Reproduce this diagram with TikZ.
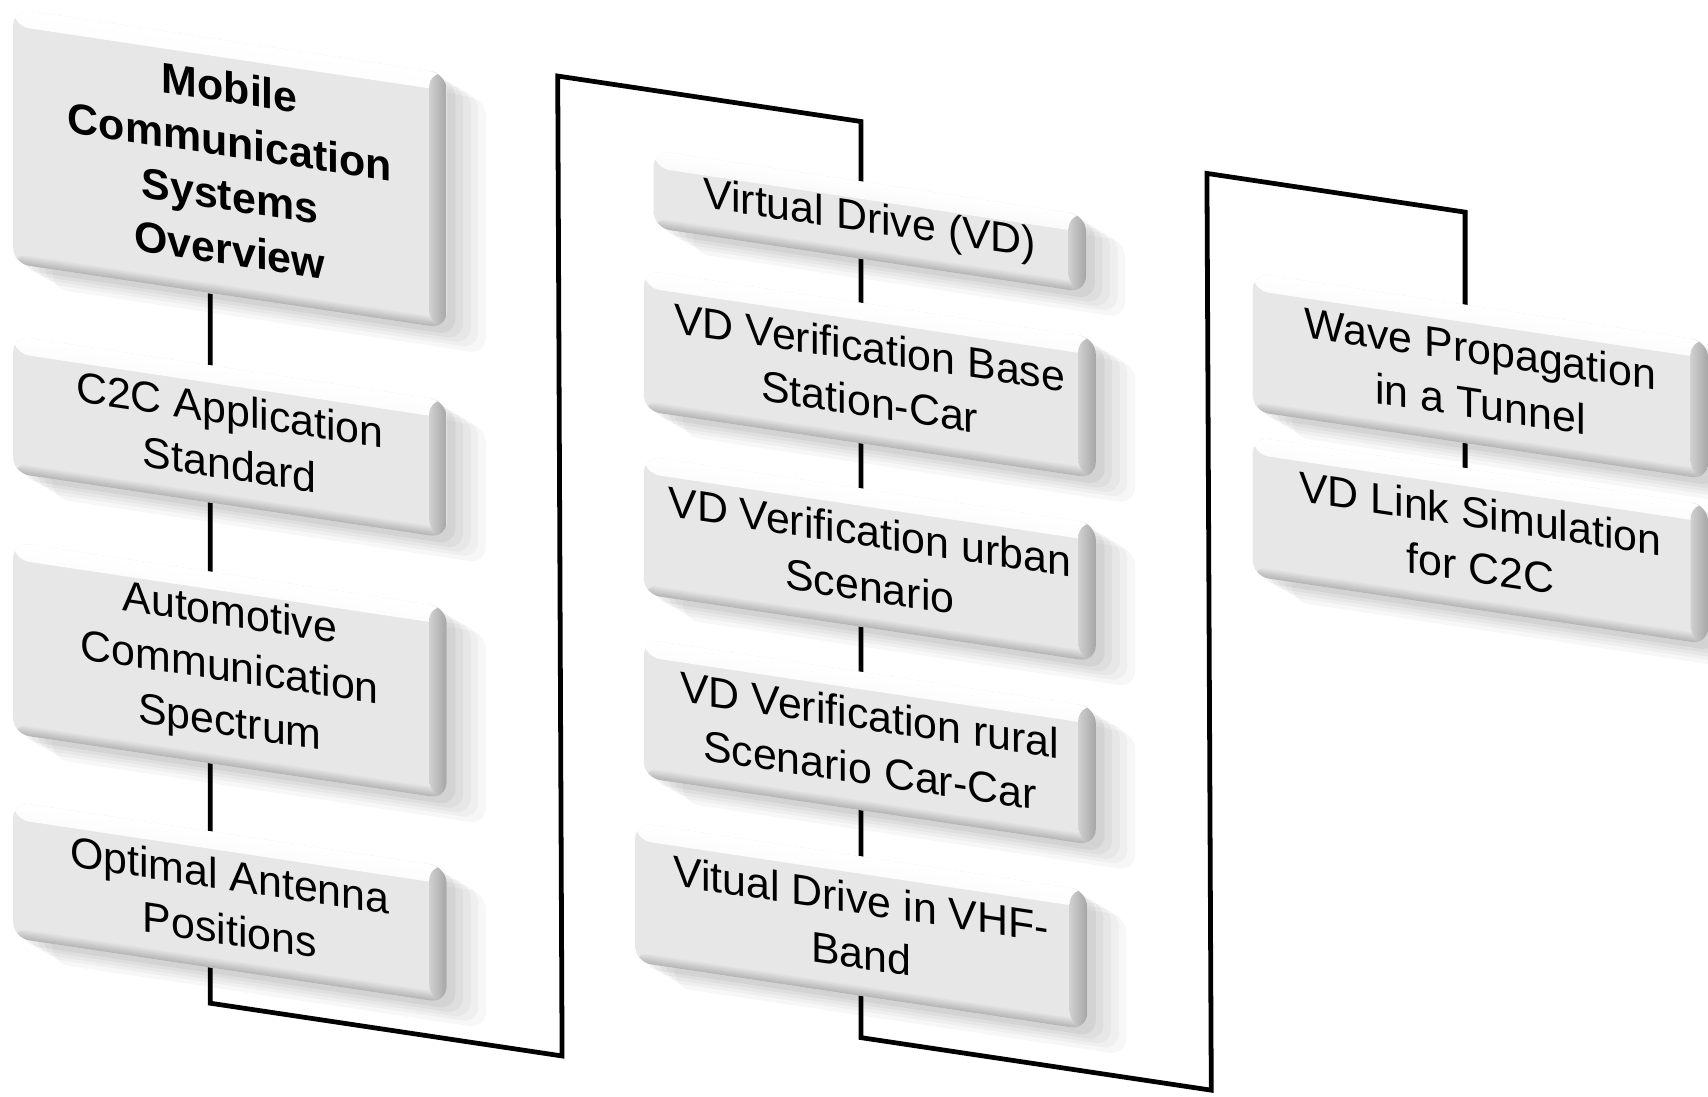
\documentclass[tikz,border=0pt]{standalone}
\usepackage{fontspec}
\setmainfont{Liberation Sans}
\usepackage{tikz}
\usetikzlibrary{positioning, shadows, backgrounds}
\definecolor{tileface}{RGB}{231,231,231}
\tikzset{
node distance=4mm,
slanted/.style={transform canvas={yslant=-0.15}},
tile/.style={%
    rectangle,
    rounded corners=1.5mm,
    fill=tileface,
    align=center,
    inner sep=0pt,
    % Font
    font=\fontsize{11.2}{14.3}\selectfont,
    general shadow={fill=black, opacity=0.03, shadow xshift=3.6mm, shadow yshift=-1.8mm},
    general shadow={fill=black, opacity=0.03, shadow xshift=2.9mm, shadow yshift=-1.4mm},
    general shadow={fill=black, opacity=0.035, shadow xshift=2.2mm, shadow yshift=-1.1mm},
    general shadow={fill=black, opacity=0.04, shadow xshift=1.5mm, shadow yshift=-0.8mm},
    general shadow={fill=black, opacity=0.05, shadow xshift=0.8mm, shadow yshift=-0.5mm},
    path picture={
      \shade[top color=white, bottom color=tileface]
        (path picture bounding box.north west) rectangle
        ([yshift=-1.6mm]path picture bounding box.north east);
      \shade[top color=tileface, bottom color=gray!60]
        ([yshift=1mm]path picture bounding box.south west) rectangle
        (path picture bounding box.south east);
      \shade[left color=tileface!90!black, right color=gray!70]
        ([xshift=-1.6mm]path picture bounding box.north east) rectangle
        (path picture bounding box.south east);
    },
},
leftcol/.style={tile, minimum width=39.8mm},
midcol/.style={tile, minimum width=41.5mm},
rightcol/.style={tile, minimum width=41.8mm},
title/.style={leftcol, font=\fontsize{11.2}{14.1}\selectfont\bfseries},
wire/.style={draw=black, line width=1.25pt},
}

\begin{document}
\begin{tikzpicture}
\useasboundingbox (0,0) rectangle (15.68,-10.07);

\begin{scope}[slanted]
	\node[title, minimum height=23.4mm] (mobile) at (2.11,-1.23) {Mobile\\Communication\\Systems\\Overview};
	\node[leftcol, minimum height=12.6mm, below=6.5mm of mobile] (c2c) {C2C Application\\Standard};
	\node[leftcol, minimum height=17.6mm, below=6.2mm of c2c] (spectrum) {Automotive\\Communication\\Spectrum};
	\node[leftcol, minimum height=12.5mm, below=6.1mm of spectrum] (antenna) {Optimal Antenna\\Positions};

	\node[midcol, minimum width=39.7mm, minimum height=7.1mm] (vd) at (7.985,-0.835) {Virtual Drive (VD)};
	\node[midcol, minimum height=12.9mm, below=3.9mm of vd] (base) {VD Verification Base\\Station-Car};
	\node[midcol, minimum height=12.7mm, below=4mm of base] (urban) {VD Verification urban\\Scenario};
	\node[midcol, minimum height=12.7mm, below=4mm of urban] (rural) {VD Verification rural\\Scenario Car-Car};
	\node[midcol, minimum height=12.8mm, below=4.1mm of rural, xshift=-0.8mm] (vhf) {Vitual Drive in VHF-\\Band};

	\node[rightcol, minimum height=12.7mm] (tunnel) at (13.59,-1.415) {Wave Propagation\\in a Tunnel};
	\node[rightcol, minimum height=12.8mm, below=2.2mm of tunnel] (link) {VD Link Simulation\\for C2C};
\end{scope}

\begin{scope}[on background layer]
\begin{scope}[slanted]
	\coordinate (b1) at (5.16,-8.92);
	\coordinate (t1) at (5.12,0.07);
	\coordinate (b2) at (11.12,-8.34);
	\coordinate (t2) at (11.08,0.07);
	\draw[wire] ([xshift=-1.8mm]mobile.south) |- (b1) -- (t1) -| (vhf.north) -- (vhf.south)
		|- (b2) -- (t2) -| ([xshift=-1.4mm]link.north);
\end{scope}
\end{scope}
\end{tikzpicture}
\end{document}
